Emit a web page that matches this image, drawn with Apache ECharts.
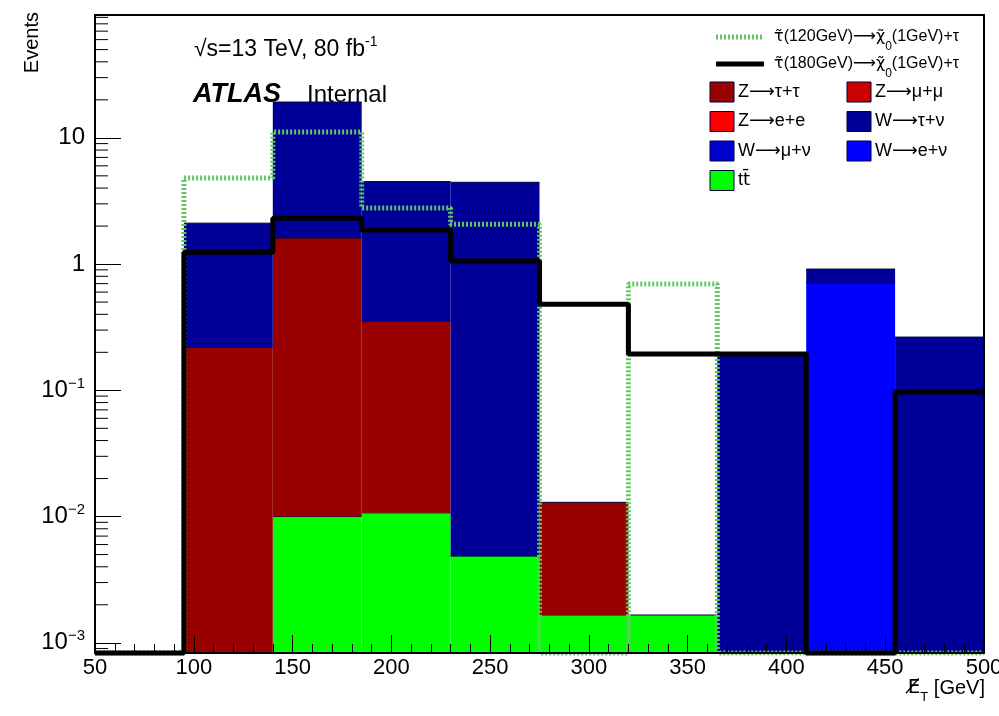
<!DOCTYPE html>
<html>
<head>
<meta charset="utf-8">
<script src="https://cdn.jsdelivr.net/npm/echarts@6/dist/echarts.min.js"></script>
<style>
  html, body { margin: 0; padding: 0; background: #fff; }
  #chart { width: 999px; height: 716px; }
</style>
</head>
<body>
<div id="chart"></div>
<script>
// Missing-ET histogram: stacked backgrounds plus two stau signal hypotheses
const binEdges = [50, 95, 140, 185, 230, 275, 320, 365, 410, 455, 500];

// background yields per bin (events)
const ttbar   = [0, 0, 0.0100, 0.0107, 0.00486, 0.00166, 0.00166, 0, 0, 0];
const zTauTau = [0, 0.22, 1.60, 0.343, 0, 0.0113, 0, 0, 0, 0];
const zMuMu   = [0, 0, 0, 0, 0, 0, 0, 0, 0, 0];
const zEE     = [0, 0, 0, 0, 0, 0, 0, 0, 0, 0];
const wENu    = [0, 0, 0, 0, 0, 0, 0, 0, 0.707, 0];
const wMuNu   = [0, 0, 0, 0, 0, 0, 0, 0, 0, 0];
const wTauNu  = [0, 1.89, 17.6, 4.15, 4.44, 0, 0, 0.19, 0.206, 0.264];

// signal yields per bin
const sig120 = [0, 4.8, 11.1, 2.78, 2.07, 0, 0.695, 0, 0, 0];
const sig180 = [0, 1.24, 2.31, 1.86, 1.06, 0.48, 0.194, 0.194, 0, 0.097];

// axis ranges and tick labels
const xMin = 50, xMax = 500, xStep = 50;
const yMin = 0.00083, yMax = 94;
const yMajorExp = [-3, -2, -1, 0, 1];

const FONT = "'Liberation Sans', Arial, Helvetica, sans-serif";
const SYM = "'DejaVu Sans', 'Liberation Sans', sans-serif";

// stacking order, bottom to top; labels are split as [process, decay products]
const stackDefs = [
  { proc: 't', prod: 't\u0304', color: '#00ff00', values: ttbar, plain: true },
  { proc: 'Z', prod: 'τ+τ', color: '#990000', values: zTauTau },
  { proc: 'Z', prod: 'μ+μ', color: '#cc0000', values: zMuMu },
  { proc: 'Z', prod: 'e+e', color: '#ff0000', values: zEE },
  { proc: 'W', prod: 'e+ν', color: '#0000ff', values: wENu },
  { proc: 'W', prod: 'μ+ν', color: '#0000cc', values: wMuNu },
  { proc: 'W', prod: 'τ+ν', color: '#000099', values: wTauNu }
];

const cumulative = new Array(binEdges.length - 1).fill(0);
const stackSeries = stackDefs.map(def => {
  const data = def.values.map((v, i) => {
    const lo = cumulative[i];
    const hi = lo + v;
    cumulative[i] = hi;
    return [binEdges[i], binEdges[i + 1], Math.max(lo, yMin), Math.max(hi, yMin), v];
  });
  return {
    type: 'custom',
    name: def.proc + def.prod,
    z: 2,
    data: data,
    encode: { x: [0, 1], y: [2, 3] },
    renderItem: (params, api) => {
      if (!(api.value(4) > 0)) return null;
      const p0 = api.coord([api.value(0), api.value(2)]);
      const p1 = api.coord([api.value(1), api.value(3)]);
      return {
        type: 'group',
        children: [
          { type: 'rect',
            shape: { x: p0[0], y: p1[1], width: p1[0] - p0[0], height: p0[1] - p1[1] },
            style: { fill: def.color } },
          { type: 'line',
            shape: { x1: p0[0], y1: p1[1], x2: p1[0], y2: p1[1] },
            style: { stroke: '#00003c', lineWidth: 1 } }
        ]
      };
    }
  };
});

// step outline of a signal histogram (empty bins sit on the frame floor)
function stepData(values) {
  const pts = values.map((v, i) => [binEdges[i], Math.max(v, yMin)]);
  pts.push([binEdges[binEdges.length - 1], Math.max(values[values.length - 1], yMin)]);
  return pts;
}

// minor log ticks: 2..9 within each decade
const yMinorTicks = [];
for (let e = -4; e <= 1; e++) {
  for (let m = 2; m <= 9; m++) {
    const v = m * Math.pow(10, e);
    if (v > yMin && v < yMax) yMinorTicks.push(v);
  }
}

function yLabel(value) {
  const e = Math.round(Math.log10(value));
  if (yMajorExp.indexOf(e) < 0) return '';
  if (e === 0) return '{b|1}';
  if (e === 1) return '{b|10}';
  return '{b|10}{s|−' + Math.abs(e) + '}';
}

const legendBoxes = [
  { col: 0, row: 0, idx: 1 },
  { col: 1, row: 0, idx: 2 },
  { col: 0, row: 1, idx: 3 },
  { col: 1, row: 1, idx: 6 },
  { col: 0, row: 2, idx: 5 },
  { col: 1, row: 2, idx: 4 },
  { col: 0, row: 3, idx: 0 }
];

const graphics = [];
// signal legend entries
graphics.push({
  type: 'line', z: 20,
  shape: { x1: 716, y1: 37, x2: 764, y2: 37 },
  style: { stroke: '#63c663', lineWidth: 5, lineDash: [2, 2] }
});
graphics.push({
  type: 'line', z: 20,
  shape: { x1: 716, y1: 64, x2: 764, y2: 64 },
  style: { stroke: '#000', lineWidth: 5 }
});
const sigRich = {
  n: { fontSize: 16, fontFamily: FONT, fill: '#000', lineHeight: 20 },
  g: { fontSize: 16, fontFamily: SYM, fill: '#000', lineHeight: 20 },
  a: { fontSize: 16, fontFamily: SYM, fill: '#000', lineHeight: 20 },
  s: { fontSize: 12, fontFamily: FONT, fill: '#000', verticalAlign: 'bottom', lineHeight: 12, padding: [0, 0, -6, 0] }
};
[['120', 37], ['180', 64]].forEach(([m, y]) => {
  graphics.push({
    type: 'text', z: 20, x: 774, y: y,
    style: {
      text: '{g|τ\u0303}{n|(' + m + 'GeV)}{a|⟶}{g|χ\u0303}{s|0}{n|(1GeV)+τ}',
      rich: sigRich, verticalAlign: 'middle', align: 'left'
    }
  });
});
const boxRich = {
  n: { fontSize: 18, fontFamily: FONT, fill: '#000', lineHeight: 22 },
  a: { fontSize: 18, fontFamily: SYM, fill: '#000', lineHeight: 22 },
  g: { fontSize: 18, fontFamily: SYM, fill: '#000', lineHeight: 22 }
};
legendBoxes.forEach(b => {
  const def = stackDefs[b.idx];
  const bx = b.col === 0 ? 710 : 847;
  const cy = 92 + b.row * 29.5;
  graphics.push({
    type: 'rect', z: 20,
    shape: { x: bx, y: cy - 10, width: 24, height: 20 },
    style: { fill: def.color, stroke: '#00003c', lineWidth: 1 }
  });
  const label = def.plain
    ? '{n|' + def.proc + '}{g|' + def.prod + '}'
    : '{n|' + def.proc + '}{a|⟶}{n|' + def.prod + '}';
  graphics.push({
    type: 'text', z: 20, x: bx + 28, y: cy,
    style: { text: label, rich: boxRich, verticalAlign: 'middle', align: 'left' }
  });
});
// run conditions and experiment label
graphics.push({
  type: 'text', z: 20, x: 194, y: 50,
  style: {
    text: '{n|√s=13 TeV, 80 fb}{s|-1}',
    rich: {
      n: { fontSize: 23, fontFamily: FONT, fill: '#000', lineHeight: 26 },
      s: { fontSize: 14, fontFamily: FONT, fill: '#000', verticalAlign: 'top', lineHeight: 14, padding: [-2, 0, 0, 0] }
    },
    verticalAlign: 'middle'
  }
});
graphics.push({
  type: 'text', z: 20, x: 193, y: 95,
  style: { text: 'ATLAS', fontSize: 27, fontWeight: 'bold', fontStyle: 'italic', fontFamily: FONT, fill: '#000', verticalAlign: 'middle' }
});
graphics.push({
  type: 'text', z: 20, x: 307, y: 95,
  style: { text: 'Internal', fontSize: 24, fontFamily: FONT, fill: '#000', verticalAlign: 'middle' }
});
// axis titles
graphics.push({
  type: 'text', z: 20, x: 32, y: 12, rotation: Math.PI / 2,
  style: { text: 'Events', fontSize: 20, fontFamily: FONT, fill: '#000', align: 'right', verticalAlign: 'middle' }
});
graphics.push({
  type: 'text', z: 20, x: 985, y: 688,
  style: {
    text: '{e|E\u0338}{s|T}{n| [GeV]}',
    rich: {
      e: { fontSize: 20, fontFamily: SYM, fill: '#000', lineHeight: 22 },
      n: { fontSize: 20, fontFamily: FONT, fill: '#000', lineHeight: 22 },
      s: { fontSize: 13, fontFamily: FONT, fill: '#000', verticalAlign: 'bottom', lineHeight: 13, padding: [0, 0, -5, 0] }
    },
    align: 'right', verticalAlign: 'middle'
  }
});

const chart = echarts.init(document.getElementById('chart'), null, { renderer: 'canvas' });
chart.setOption({
  animation: false,
  backgroundColor: '#fff',
  grid: {
    left: 95, right: 15, top: 15, bottom: 63,
    outerBoundsMode: 'none', containLabel: false,
    show: true, borderColor: '#000', borderWidth: 2, backgroundColor: 'transparent', z: 30
  },
  xAxis: {
    type: 'value', min: xMin, max: xMax, interval: xStep, z: 30,
    axisLine: { show: true, lineStyle: { color: '#000', width: 2 } },
    axisTick: { show: true, inside: true, length: 18, lineStyle: { color: '#000', width: 1 } },
    minorTick: { show: true, splitNumber: 5, length: 9, lineStyle: { color: '#000', width: 1 } },
    axisLabel: { color: '#000', fontSize: 22, fontFamily: FONT, margin: 4, showMinLabel: true, showMaxLabel: true, hideOverlap: false },
    splitLine: { show: false }
  },
  yAxis: {
    type: 'log', logBase: 10, min: yMin, max: yMax, z: 30,
    axisLine: { show: true, lineStyle: { color: '#000', width: 2 } },
    axisTick: { show: true, inside: true, length: 26, lineStyle: { color: '#000', width: 1 } },
    axisLabel: {
      showMinLabel: false, showMaxLabel: false, margin: 10,
      formatter: yLabel,
      rich: {
        b: { fontSize: 24, fontFamily: FONT, color: '#000', lineHeight: 26 },
        s: { fontSize: 15, fontFamily: FONT, color: '#000', verticalAlign: 'top', lineHeight: 15, padding: [-1, 0, 0, 0] }
      }
    },
    splitLine: { show: false }
  },
  graphic: graphics,
  series: stackSeries.concat([
    {
      type: 'line', name: 'τ̃(120GeV)', step: 'end', symbol: 'none', z: 5, clip: false,
      data: stepData(sig120),
      lineStyle: { color: '#63c663', width: 5, type: [2, 2] }
    },
    {
      type: 'line', name: 'τ̃(180GeV)', step: 'end', symbol: 'none', z: 6, clip: false,
      data: stepData(sig180),
      lineStyle: { color: '#000', width: 5 }
    },
    {
      type: 'custom', name: 'minor ticks', z: 30, silent: true,
      data: yMinorTicks.map(v => [xMin, v]),
      renderItem: (params, api) => {
        const p = api.coord([api.value(0), api.value(1)]);
        return { type: 'line', shape: { x1: p[0], y1: p[1], x2: p[0] + 13, y2: p[1] }, style: { stroke: '#000', lineWidth: 1 } };
      }
    }
  ])
});
</script>
</body>
</html>
